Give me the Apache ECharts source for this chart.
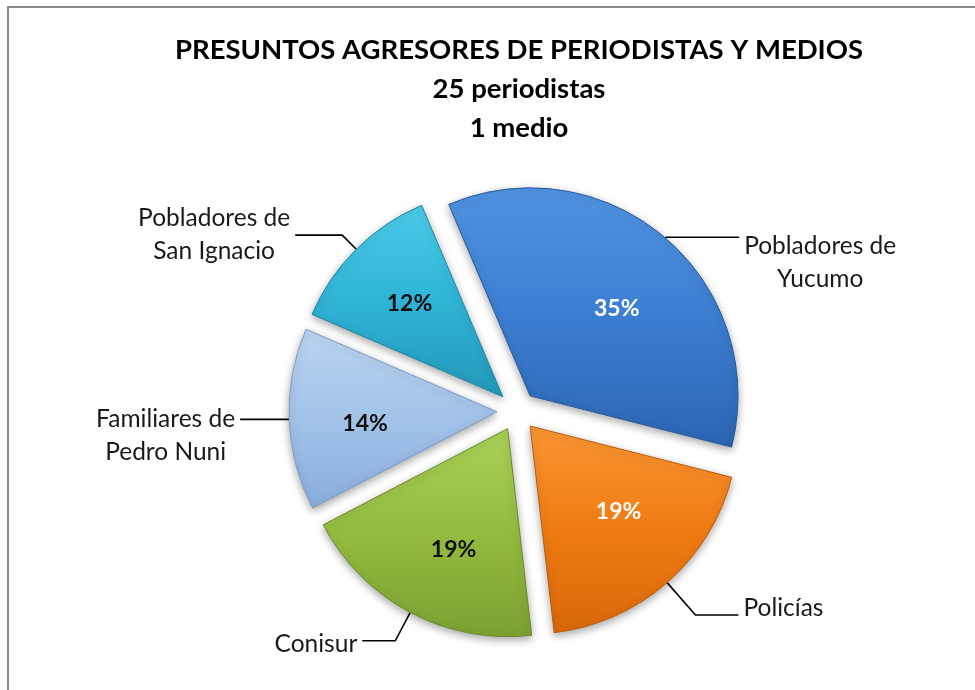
<!DOCTYPE html>
<html>
<head>
<meta charset="utf-8">
<script src="https://cdn.jsdelivr.net/npm/echarts@6/dist/echarts.min.js"></script>
<style>
  html, body { margin: 0; padding: 0; background: #fff; }
  #chart { width: 975px; height: 690px; }
</style>
</head>
<body>
<div id="chart"></div>
<script>
// datos del gráfico
const titleLines = ['PRESUNTOS AGRESORES DE PERIODISTAS Y MEDIOS', '25 periodistas', '1 medio'];
const categories = ['Pobladores de\nYucumo', 'Policías', 'Conisur', 'Familiares de\nPedro Nuni', 'Pobladores de\nSan Ignacio'];
const percents = [35, 19, 19, 14, 12];

// estilos por porción: [claro, medio, oscuro, borde]
const sliceColors = [
  ['#5193e2', '#3b7dd1', '#2c65b2', '#28589a'],
  ['#fa9634', '#f07b12', '#d8680a', '#bf5a08'],
  ['#abd057', '#94bb3f', '#7ca032', '#6a8a29'],
  ['#bcd5f2', '#a2c2e8', '#8aaddb', '#7b9cc8'],
  ['#4ccbe9', '#2fb4d6', '#2498b9', '#1d86a3']
];
const pctColors = ['#ffffff', '#ffffff', '#111111', '#111111', '#111111'];
// ajuste de las etiquetas internas respecto a su posición por defecto
const pctShiftX = [17, 18, -4, -25, -18];
const pctShiftY = [-6, 5, 26, 8, -17];
// líneas guía de las etiquetas externas
const guideLen = [1, 43, 32, 1, 20];
const guideLen2 = [73, 43, 33, 48, 47];
const namePadding = [[50, 0, 0, 0], [0, 0, 14, 0], [6, 0, 0, 0], [32, 0, 0, 0], [0, 0, 0, 0]];

const font = 'Lato, "Open Sans", sans-serif';
const center = [517, 411];
const radius = 208;

const chart = echarts.init(document.getElementById('chart'));

const sliceData = categories.map((name, i) => ({
  name: name,
  value: percents[i],
  selected: true,
  itemStyle: {
    color: new echarts.graphic.LinearGradient(0, 0, 0, 1, [
      { offset: 0, color: sliceColors[i][0] },
      { offset: 0.5, color: sliceColors[i][1] },
      { offset: 1, color: sliceColors[i][2] }
    ]),
    borderColor: sliceColors[i][3]
  },
  label: { color: pctColors[i] }
}));

const nameData = categories.map((name, i) => ({
  name: name,
  value: percents[i],
  selected: true,
  labelLine: { length: guideLen[i], length2: guideLen2[i] },
  label: { padding: namePadding[i] }
}));

chart.setOption({
  animation: false,
  title: {
    text: titleLines.join('\n'),
    left: 519,
    top: 31,
    padding: 0,
    textAlign: 'center',
    textStyle: {
      fontFamily: font,
      fontSize: 27.5,
      fontWeight: 'bold',
      lineHeight: 39,
      color: '#000'
    }
  },
  graphic: [{
    type: 'rect',
    shape: { x: 8, y: 7, width: 1100, height: 1100 },
    style: { fill: 'none', stroke: '#8a8a8a', lineWidth: 2 },
    silent: true
  }],
  series: [
    {
      type: 'pie',
      center: center,
      radius: radius,
      startAngle: 113,
      selectedMode: 'multiple',
      selectedOffset: 20,
      avoidLabelOverlap: false,
      emphasis: { disabled: true },
      itemStyle: {
        borderWidth: 1,
        shadowBlur: 8,
        shadowColor: 'rgba(0,0,0,0.35)',
        shadowOffsetY: 3
      },
      label: {
        position: 'inside',
        formatter: '{c}%',
        fontFamily: font,
        fontSize: 23,
        fontWeight: 'bold'
      },
      labelLine: { show: false },
      labelLayout: p => ({ dx: pctShiftX[p.dataIndex], dy: pctShiftY[p.dataIndex] }),
      data: sliceData
    },
    {
      type: 'pie',
      center: center,
      radius: radius,
      startAngle: 113,
      selectedMode: 'multiple',
      selectedOffset: 20,
      avoidLabelOverlap: false,
      silent: true,
      emphasis: { disabled: true },
      itemStyle: { color: 'rgba(0,0,0,0)', borderWidth: 0 },
      label: {
        position: 'outside',
        alignTo: 'none',
        distanceToLabelLine: 5,
        formatter: p => p.name.split('\n').map(t => '{a|' + t + '}').join('\n'),
        rich: {
          a: {
            fontFamily: font,
            fontSize: 24.5,
            lineHeight: 33,
            color: '#1a1a1a',
            align: 'center'
          }
        }
      },
      labelLine: {
        show: true,
        smooth: false,
        lineStyle: { color: '#000', width: 1.6 }
      },
      data: nameData
    }
  ]
});
</script>
</body>
</html>
